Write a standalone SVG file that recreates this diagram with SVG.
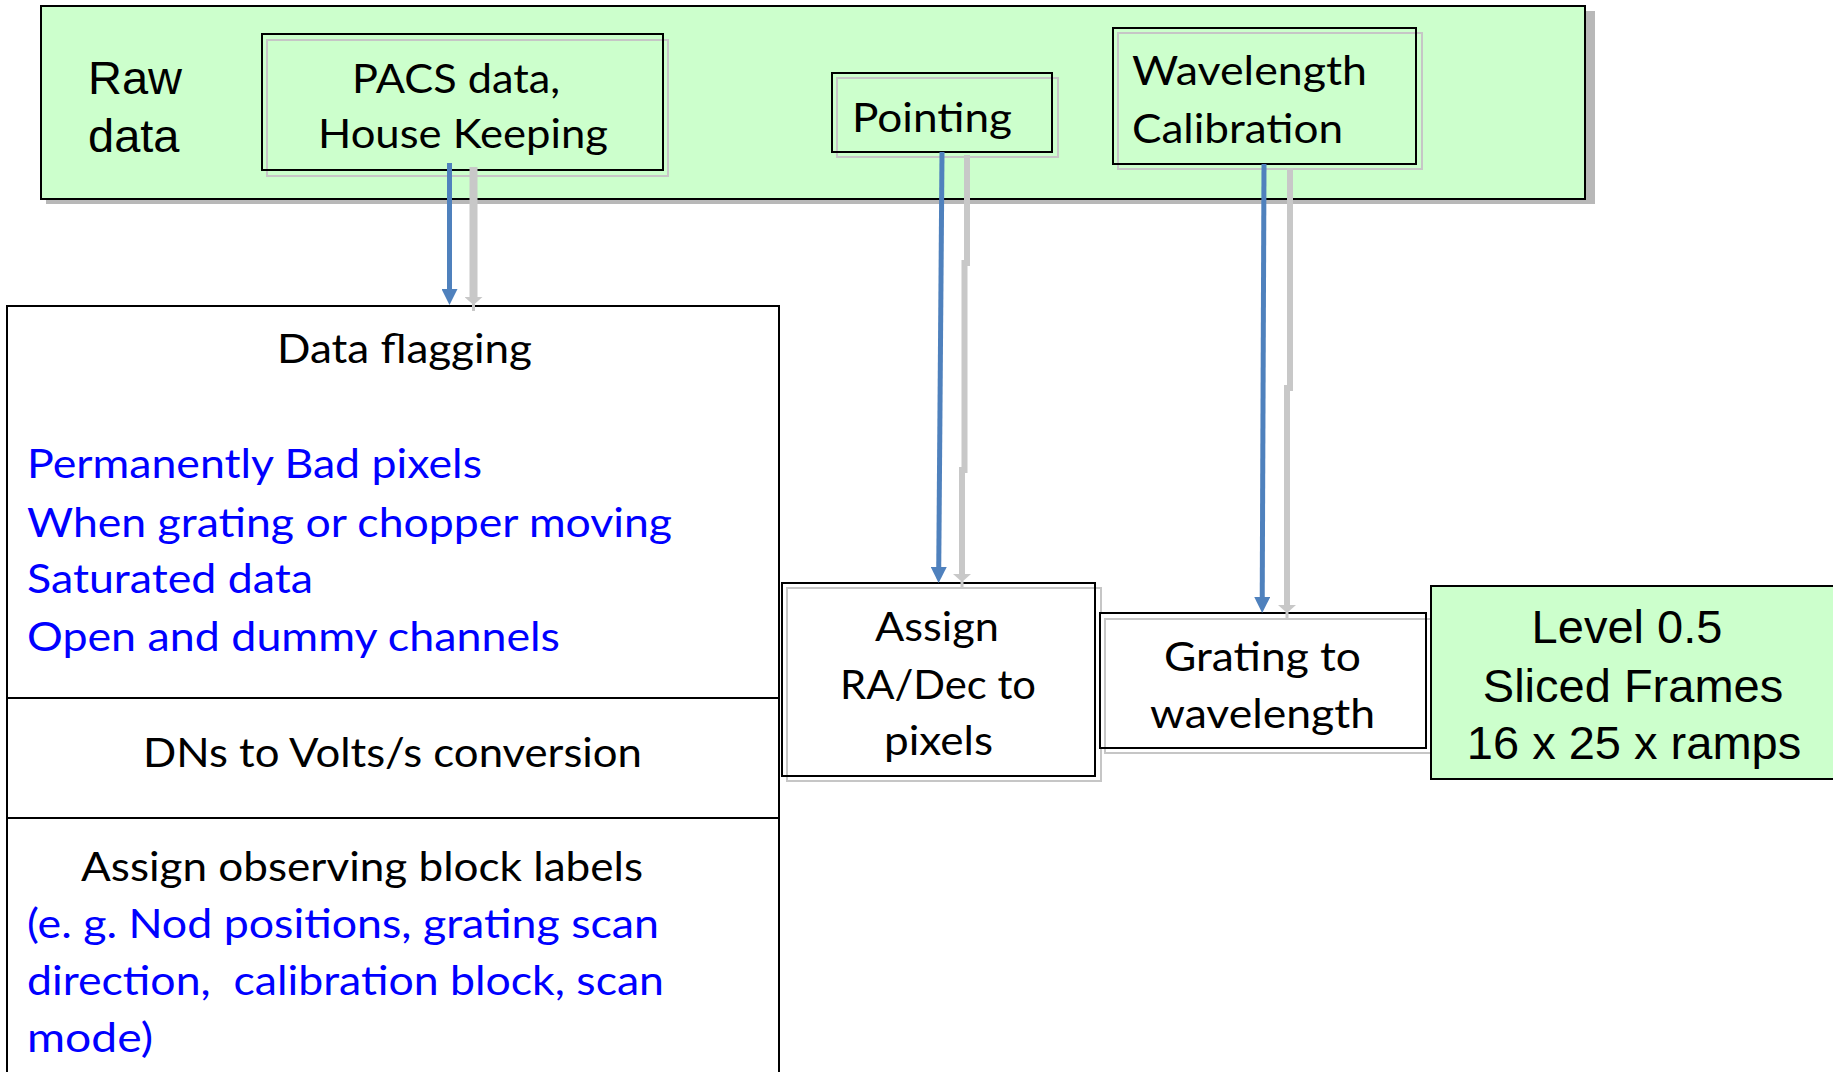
<svg xmlns="http://www.w3.org/2000/svg" width="1833" height="1072" viewBox="0 0 1833 1072">
  <style>
    .green { fill: #ccffcc; stroke: #000; stroke-width: 2; }
    .white { fill: #fff; stroke: none; }
    .frame { fill: none; stroke: #000; stroke-width: 2; }
    .ghostbox { fill: none; stroke: #c6c6c6; stroke-width: 2; }
    .t { font-family: Lato, "Open Sans", sans-serif; font-size: 41px; fill: #000; }
    .blue { fill: #0000ff; }
    .sans { font-family: "Liberation Sans", Arial, sans-serif; font-size: 47px; fill: #000; }
    .flow { fill: none; stroke: #4f81bd; stroke-width: 5; }
    .ghost { fill: none; stroke: #c8c8c8; }
  </style>
  <defs>
    <marker id="head" markerUnits="userSpaceOnUse" viewBox="0 0 16 16" markerWidth="16" markerHeight="16" refX="6" refY="8" orient="auto">
      <path d="M0,0 L16,8 L0,16 z" fill="#4f81bd"/>
    </marker>
    <marker id="ghosthead" markerUnits="userSpaceOnUse" viewBox="0 0 14 18" markerWidth="14" markerHeight="18" refX="0" refY="9" orient="auto">
      <path d="M0,0 L8,9 L0,18 z M7,7.5 L14,7.5 L14,10.5 L7,10.5 z" fill="#c8c8c8"/>
    </marker>
  </defs>

  <rect width="1833" height="1072" fill="#fff"/>

  <!-- Raw data band -->
  <g id="raw-data">
    <rect x="46" y="11" width="1549" height="193" fill="#b8b8b8"/>
    <rect class="green" x="41" y="6" width="1544" height="193"/>
    <text class="sans" x="88" y="94">Raw</text>
    <text class="sans" x="88" y="152">data</text>
  </g>

  <g id="pacs-data">
    <rect class="ghostbox" x="267" y="40" width="401" height="136"/>
    <rect class="frame" x="262" y="34" width="401" height="136"/>
    <text class="t" x="352" y="93" textLength="208" lengthAdjust="spacingAndGlyphs">PACS data,</text>
    <text class="t" x="318" y="148" textLength="290" lengthAdjust="spacingAndGlyphs">House Keeping</text>
  </g>

  <g id="pointing">
    <rect class="ghostbox" x="837" y="78" width="221" height="79"/>
    <rect class="frame" x="832" y="73" width="220" height="79"/>
    <text class="t" x="852" y="132" textLength="160" lengthAdjust="spacingAndGlyphs">Pointing</text>
  </g>

  <g id="wavelength-calibration">
    <rect class="ghostbox" x="1118" y="33" width="304" height="136"/>
    <rect class="frame" x="1113" y="28" width="303" height="136"/>
    <text class="t" x="1132" y="85" textLength="235" lengthAdjust="spacingAndGlyphs">Wavelength</text>
    <text class="t" x="1132" y="143" textLength="211" lengthAdjust="spacingAndGlyphs">Calibration</text>
  </g>

  <!-- Processing column -->
  <g id="data-flagging">
    <rect class="white" x="7" y="306" width="772" height="780"/>
    <rect class="frame" x="7" y="306" width="772" height="780"/>
    <text class="t" x="277" y="363" textLength="255" lengthAdjust="spacingAndGlyphs">Data flagging</text>
    <text class="t blue" x="27" y="478" textLength="455" lengthAdjust="spacingAndGlyphs">Permanently Bad pixels</text>
    <text class="t blue" x="27" y="537" textLength="645" lengthAdjust="spacingAndGlyphs">When grating or chopper moving</text>
    <text class="t blue" x="27" y="593" textLength="286" lengthAdjust="spacingAndGlyphs">Saturated data</text>
    <text class="t blue" x="27" y="651" textLength="533" lengthAdjust="spacingAndGlyphs">Open and dummy channels</text>
  </g>

  <g id="dn-conversion">
    <line x1="7" y1="698" x2="779" y2="698" stroke="#000" stroke-width="2"/>
    <text class="t" x="143" y="767" textLength="499" lengthAdjust="spacingAndGlyphs">DNs to Volts/s conversion</text>
  </g>

  <g id="block-labels">
    <line x1="7" y1="818" x2="779" y2="818" stroke="#000" stroke-width="2"/>
    <text class="t" x="81" y="881" textLength="562" lengthAdjust="spacingAndGlyphs">Assign observing block labels</text>
    <text class="t blue" x="27" y="938" textLength="632" lengthAdjust="spacingAndGlyphs">(e. g. Nod positions, grating scan</text>
    <text class="t blue" x="27" y="995" textLength="637" lengthAdjust="spacingAndGlyphs" style="white-space:pre">direction,  calibration block, scan</text>
    <text class="t blue" x="27" y="1052" textLength="126" lengthAdjust="spacingAndGlyphs">mode)</text>
  </g>

  <g id="assign-radec">
    <rect class="white" x="782" y="583" width="313" height="193"/>
    <rect class="ghostbox" x="787" y="588" width="314" height="193"/>
    <rect class="frame" x="782" y="583" width="313" height="193"/>
    <text class="t" x="875" y="641" textLength="124" lengthAdjust="spacingAndGlyphs">Assign</text>
    <text class="t" x="840" y="699" textLength="196" lengthAdjust="spacingAndGlyphs">RA/Dec to</text>
    <text class="t" x="884" y="755" textLength="109" lengthAdjust="spacingAndGlyphs">pixels</text>
  </g>

  <g id="grating-wavelength">
    <rect class="white" x="1100" y="613" width="326" height="135"/>
    <rect class="ghostbox" x="1105" y="619" width="326" height="134"/>
    <rect class="frame" x="1100" y="613" width="326" height="135"/>
    <text class="t" x="1164" y="671" textLength="197" lengthAdjust="spacingAndGlyphs">Grating to</text>
    <text class="t" x="1150" y="728" textLength="225" lengthAdjust="spacingAndGlyphs">wavelength</text>
  </g>

  <g id="level-0-5">
    <rect class="green" x="1431" y="586" width="410" height="193"/>
    <text class="sans" x="1627" y="643" text-anchor="middle">Level 0.5</text>
    <text class="sans" x="1633" y="702" text-anchor="middle">Sliced Frames</text>
    <text class="sans" x="1634" y="759" text-anchor="middle">16 x 25 x ramps</text>
  </g>

  <!-- Connectors -->
  <g id="connectors">
    <path class="ghost" stroke-width="8" d="M473.5,167 V297" marker-end="url(#ghosthead)"/>
    <path class="ghost" stroke-width="6" d="M967,155 V263 H964.5 V470 H962 V574" marker-end="url(#ghosthead)"/>
    <path class="ghost" stroke-width="6" d="M1290,168 V388 H1287 V605" marker-end="url(#ghosthead)"/>

    <path class="flow" d="M449.5,163 V295" marker-end="url(#head)"/>
    <path class="flow" d="M942,152 L938.7,573" marker-end="url(#head)"/>
    <path class="flow" d="M1264,164 L1262.2,603" marker-end="url(#head)"/>
  </g>
</svg>
